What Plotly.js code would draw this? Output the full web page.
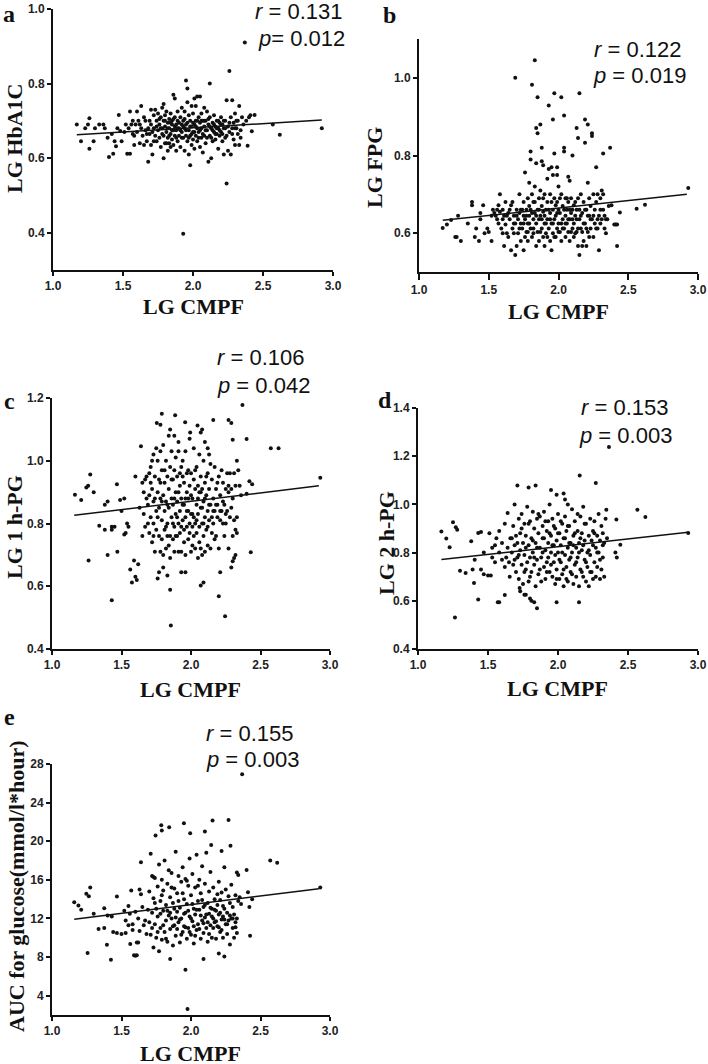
<!DOCTYPE html>
<html><head><meta charset="utf-8">
<script src="https://cdn.plot.ly/plotly-3.0.1.min.js"></script>
<style>html,body{margin:0;padding:0;background:#fff}#chart{width:708px;height:1064px}</style>
</head><body><div id="chart"></div>
<script>
// ---- data ----
const ptsA = [[1.17,0.69],[1.20,0.645],[1.23,0.68],[1.25,0.69],[1.26,0.625],[1.26,0.707],[1.29,0.645],[1.30,0.68],[1.33,0.69],[1.36,0.69],[1.37,0.68],[1.39,0.655],[1.40,0.603],[1.42,0.665],[1.43,0.612],[1.44,0.645],[1.45,0.632],[1.46,0.68],[1.47,0.716],[1.48,0.673],[1.49,0.645],
[1.51,0.67],[1.52,0.69],[1.53,0.612],[1.54,0.68],[1.55,0.612],[1.55,0.725],[1.56,0.69],[1.57,0.665],[1.57,0.70],[1.58,0.635],[1.59,0.69],[1.60,0.725],[1.60,0.67],[1.61,0.70],[1.62,0.64],[1.63,0.74],[1.63,0.68],[1.64,0.66],[1.65,0.635],[1.66,0.675],[1.66,0.70],[1.67,0.645],[1.68,0.68],[1.68,0.59],[1.69,0.665],[1.70,0.73],[1.70,0.635],[1.70,0.69],
[1.71,0.61],[1.72,0.68],[1.72,0.715],[1.73,0.66],[1.73,0.73],[1.74,0.645],[1.74,0.70],[1.75,0.675],[1.75,0.72],[1.76,0.69],[1.76,0.655],[1.77,0.71],[1.77,0.63],[1.78,0.68],[1.78,0.735],[1.78,0.665],[1.79,0.70],[1.79,0.60],[1.79,0.745],[1.80,0.685],[1.80,0.64],[1.80,0.715],[1.81,0.67],[1.81,0.725],[1.82,0.655],[1.82,0.695],[1.82,0.62],[1.83,0.68],[1.83,0.705],[1.83,0.64],[1.84,0.665],[1.84,0.72],[1.84,0.63],[1.85,0.69],[1.85,0.65],[1.85,0.70],[1.86,0.77],[1.86,0.675],[1.86,0.635],[1.87,0.71],[1.87,0.66],[1.87,0.76],[1.88,0.69],[1.88,0.62],[1.88,0.675],[1.89,0.70],[1.89,0.645],[1.89,0.725],[1.90,0.68],[1.90,0.66],
[1.91,0.71],[1.91,0.63],[1.92,0.69],[1.92,0.735],[1.92,0.67],[1.93,0.397],[1.93,0.655],[1.93,0.70],[1.94,0.62],[1.94,0.68],[1.94,0.725],[1.95,0.808],[1.95,0.66],[1.95,0.69],[1.96,0.787],[1.96,0.75],[1.96,0.645],[1.97,0.675],[1.97,0.715],[1.97,0.61],[1.98,0.581],[1.98,0.70],[1.98,0.66],[1.99,0.74],[1.99,0.685],[1.99,0.635],[2.00,0.72],[2.00,0.67],[2.00,0.65],[2.01,0.76],[2.01,0.69],[2.01,0.625],[2.02,0.70],[2.02,0.66],[2.02,0.74],[2.03,0.68],[2.03,0.765],[2.03,0.645],[2.04,0.71],[2.04,0.67],[2.05,0.695],[2.05,0.765],[2.05,0.63],[2.06,0.68],[2.06,0.72],[2.06,0.655],[2.07,0.70],[2.07,0.615],[2.08,0.685],[2.08,0.735],[2.08,0.66],[2.09,0.70],[2.09,0.64],[2.10,0.675],[2.10,0.725],
[2.11,0.59],[2.11,0.69],[2.12,0.80],[2.12,0.66],[2.12,0.71],[2.13,0.68],[2.13,0.60],[2.14,0.695],[2.14,0.645],[2.15,0.67],[2.15,0.715],[2.16,0.685],[2.16,0.65],[2.17,0.70],[2.17,0.665],[2.18,0.68],[2.18,0.625],[2.19,0.695],[2.19,0.66],[2.20,0.67],[2.20,0.71],[2.21,0.645],[2.21,0.69],[2.22,0.68],[2.22,0.61],[2.23,0.70],[2.23,0.655],[2.24,0.755],[2.24,0.532],[2.25,0.685],[2.25,0.62],[2.26,0.834],[2.26,0.67],[2.27,0.71],[2.27,0.61],[2.28,0.755],[2.28,0.68],[2.29,0.695],[2.29,0.65],[2.30,0.72],[2.30,0.635],[2.31,0.68],[2.32,0.70],[2.32,0.665],[2.33,0.74],[2.33,0.635],[2.34,0.675],[2.35,0.71],
[2.37,0.91],[2.38,0.70],[2.39,0.633],[2.40,0.71],[2.41,0.715],[2.42,0.672],[2.44,0.716],[2.57,0.69],[2.62,0.663],[2.92,0.68],
[1.58,0.66],[1.62,0.69],[1.65,0.71],[1.67,0.665],[1.69,0.70],[1.71,0.67],[1.72,0.645],[1.74,0.685],[1.76,0.705],[1.77,0.68],[1.79,0.66],[1.80,0.70],[1.81,0.64],[1.82,0.68],[1.83,0.66],[1.84,0.695],[1.85,0.675],[1.86,0.705],[1.87,0.685],[1.88,0.655],[1.89,0.68],[1.90,0.695],[1.91,0.675],[1.92,0.655],[1.93,0.685],[1.94,0.705],[1.95,0.675],[1.96,0.695],[1.97,0.655],[1.98,0.685],[1.99,0.665],[2.00,0.695],[2.01,0.67],[2.02,0.685],[2.03,0.70],[2.04,0.655],[2.05,0.675],[2.06,0.70],[2.07,0.665],[2.08,0.70],[2.09,0.675],[2.10,0.655],[2.11,0.705],[2.12,0.685],[2.13,0.655],[2.14,0.675],[2.15,0.69],[2.16,0.665],[2.17,0.68],[2.18,0.70],[2.19,0.675],[2.20,0.69],[2.21,0.665],[2.22,0.70],[2.23,0.68],[2.24,0.66],[2.26,0.695],[2.28,0.665],[2.30,0.68],[2.31,0.70],[2.34,0.655],[2.36,0.69]];

const ptsB = [[1.17,0.613],[1.20,0.622],[1.23,0.634],[1.26,0.59],[1.27,0.59],[1.28,0.645],[1.30,0.58],[1.35,0.625],[1.38,0.68],[1.38,0.672],[1.40,0.59],[1.41,0.612],[1.43,0.58],[1.44,0.652],[1.44,0.636],[1.46,0.672],[1.47,0.60],[1.49,0.612],[1.50,0.603],[1.52,0.58],[1.52,0.645],
[1.53,0.66],[1.54,0.652],[1.55,0.645],[1.56,0.636],[1.56,0.66],[1.57,0.672],[1.57,0.625],[1.58,0.70],[1.58,0.655],[1.59,0.612],[1.60,0.636],[1.60,0.66],[1.61,0.567],[1.61,0.645],[1.62,0.622],[1.62,0.68],[1.63,0.60],[1.64,0.652],[1.64,0.59],[1.65,0.636],[1.66,0.556],[1.66,0.672],[1.67,0.612],[1.67,0.68],[1.68,0.645],[1.68,0.60],[1.69,0.544],[1.69,1.0],[1.69,0.625],[1.70,0.567],[1.70,0.66],
[1.71,0.636],[1.71,0.60],[1.72,0.70],[1.72,0.652],[1.73,0.58],[1.73,0.625],[1.74,0.66],[1.74,0.612],[1.75,0.556],[1.75,0.645],[1.75,0.68],[1.76,0.756],[1.76,0.59],[1.76,0.636],[1.77,0.66],[1.77,0.603],[1.78,0.69],[1.78,0.625],[1.78,0.58],[1.79,0.73],[1.79,0.645],[1.79,0.67],[1.80,0.81],[1.80,0.79],[1.80,0.612],[1.80,0.66],[1.81,0.982],[1.81,0.70],[1.81,0.59],[1.82,0.636],[1.82,0.68],[1.82,0.60],[1.83,1.045],[1.83,0.652],[1.83,0.72],[1.84,0.871],[1.84,0.78],[1.84,0.625],[1.84,0.567],[1.85,0.95],[1.85,0.857],[1.85,0.66],[1.85,0.603],[1.86,0.69],[1.86,0.636],[1.86,0.58],[1.87,0.88],[1.87,0.71],[1.87,0.645],[1.88,0.82],[1.88,0.785],[1.88,0.612],[1.88,0.67],[1.89,0.775],[1.89,0.59],[1.89,0.655],[1.90,0.70],[1.90,0.625],[1.90,0.567],
[1.91,0.66],[1.91,0.60],[1.92,0.74],[1.92,0.636],[1.92,0.68],[1.93,0.929],[1.93,0.765],[1.93,0.612],[1.94,0.652],[1.94,0.70],[1.94,0.58],[1.95,0.77],[1.95,0.625],[1.95,0.556],[1.96,0.893],[1.96,0.75],[1.96,0.66],[1.96,0.60],[1.97,0.96],[1.97,0.805],[1.97,0.69],[1.97,0.636],[1.98,0.645],[1.98,0.59],[1.99,0.77],[1.99,0.75],[1.99,0.68],[1.99,0.612],[2.00,0.66],[2.00,0.625],[2.00,0.72],[2.01,0.603],[2.01,0.652],[2.02,0.95],[2.02,0.70],[2.02,0.58],[2.03,0.636],[2.03,0.67],[2.04,0.903],[2.04,0.82],[2.04,0.81],[2.04,0.612],[2.05,0.69],[2.05,0.645],[2.05,0.59],[2.06,0.66],[2.06,0.625],[2.07,0.745],[2.07,0.603],[2.07,0.68],[2.08,0.735],[2.08,0.636],[2.08,0.58],[2.09,0.652],[2.09,0.69],[2.10,0.80],[2.10,0.612],[2.10,0.66],
[2.11,0.625],[2.11,0.59],[2.12,0.68],[2.12,0.645],[2.13,0.871],[2.13,0.66],[2.13,0.603],[2.14,0.845],[2.14,0.69],[2.14,0.567],[2.15,0.96],[2.15,0.544],[2.15,0.636],[2.16,0.612],[2.16,0.70],[2.17,0.567],[2.17,0.652],[2.18,0.58],[2.18,0.68],[2.19,0.893],[2.19,0.833],[2.19,0.625],[2.20,0.567],[2.20,0.66],[2.21,0.88],[2.21,0.73],[2.21,0.603],[2.22,0.645],[2.22,0.69],[2.23,0.612],[2.23,0.67],[2.24,0.857],[2.24,0.85],[2.24,0.636],[2.25,0.70],[2.25,0.59],[2.26,0.66],[2.26,0.625],[2.27,0.77],[2.27,0.68],[2.28,0.70],[2.28,0.612],[2.29,0.556],[2.29,0.645],[2.30,0.69],[2.30,0.66],[2.31,0.71],[2.31,0.636],[2.32,0.805],[2.32,0.70],[2.33,0.645],[2.33,0.612],[2.34,0.60],[2.35,0.636],[2.36,0.67],
[2.37,0.82],[2.38,0.672],[2.40,0.622],[2.41,0.622],[2.42,0.567],[2.42,0.622],[2.44,0.653],[2.56,0.663],[2.62,0.673],[2.93,0.716],
[1.60,0.60],[1.63,0.645],[1.65,0.66],[1.68,0.625],[1.70,0.645],[1.72,0.612],[1.73,0.66],[1.75,0.625],[1.77,0.645],[1.78,0.603],[1.79,0.625],[1.81,0.652],[1.82,0.612],[1.83,0.68],[1.84,0.645],[1.86,0.66],[1.87,0.603],[1.88,0.636],[1.89,0.69],[1.90,0.645],[1.91,0.625],[1.92,0.59],[1.93,0.66],[1.94,0.636],[1.95,0.68],[1.96,0.625],[1.97,0.59],[1.98,0.672],[1.99,0.652],[2.00,0.603],[2.01,0.69],[2.02,0.625],[2.03,0.612],[2.04,0.66],[2.05,0.625],[2.06,0.69],[2.07,0.636],[2.08,0.66],[2.09,0.603],[2.10,0.636],[2.11,0.672],[2.12,0.60],[2.13,0.636],[2.14,0.612],[2.15,0.66],[2.16,0.645],[2.17,0.603],[2.18,0.625],[2.19,0.66],[2.20,0.612],[2.21,0.645],[2.22,0.59],[2.23,0.636],[2.25,0.645],[2.27,0.612],[2.28,0.636],[2.30,0.625],[2.32,0.66],[2.34,0.636]];

const ptsC = [[1.165,0.892],[1.21,0.875],[1.247,0.915],[1.26,0.92],[1.275,0.956],[1.263,0.682],[1.30,0.90],[1.34,0.793],[1.38,0.78],[1.38,0.86],[1.40,0.87],[1.40,0.70],[1.43,0.79],[1.45,0.79],[1.43,0.78],[1.43,0.555],[1.467,0.925],[1.47,0.71],[1.49,0.875],[1.50,0.84],[1.52,0.765],[1.53,0.77],[1.52,0.88],[1.54,0.80],[1.55,0.79],[1.563,0.653],[1.575,0.612],[1.59,0.682],[1.60,0.63],[1.61,0.62],[1.62,0.67],[1.64,1.046],[1.60,0.95],[1.63,0.85],[1.65,0.76],[1.67,0.94],[1.68,0.88],[1.70,0.96],[1.72,1.0],[1.73,1.02],[1.754,1.12],[1.79,1.15],[1.78,1.115],[1.886,1.145],[1.85,1.10],[1.88,1.08],[1.91,1.06],[1.958,1.123],[1.994,1.09],[2.047,1.112],[2.07,1.09],[2.08,1.10],[2.10,1.06],[2.12,1.04],[2.16,1.13],[2.27,1.13],[2.29,1.12],[2.30,1.067],[2.37,1.178],[2.40,1.069],[2.574,1.04],[2.63,1.04],[2.93,0.946],[2.43,0.708],[2.44,0.925],[2.42,0.935],[2.40,0.895],[2.33,0.82],[2.32,0.78],[2.33,0.77],[2.32,0.70],[2.31,0.69],[2.30,0.68],[2.29,0.66],[2.245,0.504],[2.20,0.568],[2.21,0.645],[2.09,0.612],[2.07,0.602],[1.855,0.475],[1.85,0.589],[1.83,0.634],[1.80,0.66],[1.77,0.645],[1.76,0.625],[1.93,0.645],[1.96,0.645],
[1.65,0.93],[1.66,0.83],[1.67,0.79],[1.68,0.95],[1.69,0.86],[1.70,0.77],[1.70,0.89],[1.71,0.82],[1.71,0.98],[1.72,0.74],[1.72,0.91],[1.73,0.80],[1.73,0.87],[1.74,0.95],[1.74,0.71],[1.75,1.04],[1.75,0.84],[1.75,0.78],[1.76,0.90],[1.76,1.00],[1.77,0.76],[1.77,0.94],[1.77,0.85],[1.78,0.71],[1.78,0.88],[1.78,1.03],[1.79,0.81],[1.79,0.97],[1.79,0.75],[1.80,0.89],[1.80,1.05],[1.80,0.70],[1.81,0.84],[1.81,0.93],[1.81,0.78],[1.82,1.00],[1.82,0.87],[1.82,0.72],[1.83,0.95],[1.83,0.80],[1.83,0.76],[1.84,0.91],[1.84,1.08],[1.84,0.85],[1.85,0.76],[1.85,0.98],[1.85,0.69],[1.86,0.88],[1.86,0.82],[1.86,1.03],[1.87,0.75],[1.87,0.94],[1.87,0.86],[1.88,0.79],[1.88,0.97],[1.88,0.71],[1.89,0.90],[1.89,1.01],[1.89,0.83],[1.90,0.76],[1.90,0.95],[1.90,0.87],[1.91,0.80],[1.91,1.03],[1.91,0.71],[1.92,0.92],[1.92,0.84],[1.92,0.77],[1.93,0.98],[1.93,0.88],[1.93,0.71],[1.94,0.81],[1.94,0.95],[1.94,1.00],[1.95,0.78],[1.95,0.86],[1.95,0.93],[1.96,0.82],[1.96,1.03],[1.96,0.70],[1.97,0.90],[1.97,0.79],[1.97,0.96],[1.98,0.84],[1.98,0.75],[1.98,0.88],[1.99,0.92],[1.99,0.80],[1.99,1.07],[2.00,0.83],[2.00,0.71],[2.00,0.96],[2.01,0.79],[2.01,0.88],[2.01,0.73],[2.02,0.94],[2.02,0.82],[2.02,1.04],[2.03,0.80],[2.03,0.91],[2.03,0.72],[2.04,0.86],[2.04,0.98],[2.04,0.77],[2.05,0.92],[2.05,0.69],[2.05,0.83],[2.06,0.74],[2.06,0.90],[2.06,1.02],[2.07,0.85],[2.07,0.72],[2.07,0.95],[2.08,0.80],[2.08,0.91],[2.08,0.70],[2.09,0.87],[2.09,1.00],[2.09,0.76],[2.10,0.82],[2.10,0.93],[2.10,0.71],[2.11,0.89],[2.11,0.78],[2.12,0.96],[2.12,0.84],[2.12,0.73],[2.13,0.91],[2.13,0.81],[2.13,1.02],[2.14,0.86],[2.14,0.72],[2.15,0.94],[2.15,0.82],[2.16,0.88],[2.16,0.80],[2.17,0.98],[2.17,0.84],[2.18,0.76],[2.18,0.91],[2.19,0.82],[2.19,0.86],[2.20,0.95],[2.20,0.72],[2.21,0.81],[2.21,0.89],[2.22,0.84],[2.22,0.97],[2.23,0.80],[2.23,0.93],[2.24,0.86],[2.24,0.76],[2.25,0.91],[2.25,0.80],[2.26,0.96],[2.26,0.84],[2.27,0.90],[2.27,0.72],[2.28,0.96],[2.28,0.82],[2.29,0.91],[2.30,0.76],[2.30,0.88],[2.31,0.96],[2.32,0.92],[2.33,1.00],[2.34,0.97],[2.35,0.92],[2.36,0.89],
[1.66,0.90],[1.69,0.80],[1.71,0.93],[1.73,0.76],[1.74,0.88],[1.76,0.82],[1.78,0.93],[1.79,0.87],[1.81,0.97],[1.82,0.79],[1.83,0.86],[1.84,0.73],[1.86,0.94],[1.87,0.80],[1.88,0.88],[1.89,0.76],[1.90,0.82],[1.91,0.90],[1.92,0.96],[1.93,0.79],[1.94,0.86],[1.95,0.74],[1.96,0.88],[1.97,0.84],[1.98,0.97],[1.99,0.77],[2.00,0.89],[2.01,0.83],[2.02,0.76],[2.03,0.97],[2.04,0.81],[2.05,0.88],[2.06,0.79],[2.07,0.90],[2.08,0.85],[2.09,0.80],[2.10,0.88],[2.11,0.95],[2.12,0.79],[2.13,0.86],[2.14,0.99],[2.15,0.77],[2.16,0.84],[2.17,0.75],[2.18,0.86],[2.19,0.93],[2.21,0.84],[2.23,0.87],[2.25,0.83],[2.27,0.92],[2.29,0.85],[2.31,0.81]];

const ptsD = [[1.167,0.888],[1.202,0.858],[1.226,0.822],[1.25,0.926],[1.27,0.905],[1.28,0.895],[1.264,0.531],[1.30,0.725],[1.34,0.715],[1.38,0.847],[1.39,0.73],[1.40,0.674],[1.405,0.77],[1.43,0.881],[1.45,0.885],[1.47,0.80],[1.43,0.605],[1.45,0.73],[1.47,0.71],[1.50,0.705],[1.52,0.705],[1.51,0.88],[1.53,0.82],[1.55,0.83],[1.56,0.86],[1.53,0.78],[1.55,0.76],[1.57,0.594],[1.58,0.594],[1.62,0.624],[1.58,0.89],[1.62,0.92],[1.64,0.964],[1.655,0.70],[1.67,0.80],[1.68,0.75],[1.69,1.0],[1.726,0.653],[1.73,0.64],[1.76,0.625],[1.77,0.625],[1.71,1.078],[1.79,1.07],[1.84,1.078],[1.80,0.61],[1.81,0.60],[1.83,0.594],[1.85,0.569],[1.99,0.594],[2.15,0.594],[2.155,1.12],[2.27,1.089],[2.364,1.238],[2.345,0.978],[2.417,0.937],[2.445,0.833],[2.41,0.80],[2.42,0.78],[2.567,0.978],[2.624,0.948],[2.93,0.881],[1.95,1.06],[1.99,1.04],[2.04,1.045],[2.05,1.02],[2.07,1.0],
[1.58,0.80],[1.60,0.77],[1.60,0.84],[1.62,0.74],[1.63,0.78],[1.64,0.82],[1.65,0.76],[1.66,0.86],
[1.68,0.91],[1.69,0.83],[1.70,0.72],[1.70,0.87],[1.71,0.78],[1.72,0.94],[1.72,0.69],[1.73,0.81],[1.73,0.88],[1.74,0.75],[1.74,0.96],[1.75,0.84],[1.75,0.67],[1.76,0.92],[1.76,0.79],[1.77,0.73],[1.77,0.87],[1.78,0.99],[1.78,0.76],[1.79,0.83],[1.79,0.68],[1.80,0.93],[1.80,0.78],[1.81,0.86],[1.81,0.72],[1.82,0.97],[1.82,0.80],[1.83,0.75],[1.83,0.90],[1.84,0.66],[1.84,0.84],[1.85,0.94],[1.85,0.77],[1.86,0.71],[1.86,0.88],[1.87,0.82],[1.87,0.95],[1.88,0.68],[1.88,0.78],[1.89,0.91],[1.89,0.86],[1.90,0.74],[1.90,0.97],[1.91,0.81],[1.91,0.69],[1.92,0.89],[1.92,0.76],[1.93,0.93],[1.93,0.84],[1.94,0.72],[1.94,1.0],[1.95,0.80],[1.95,0.87],[1.96,0.70],[1.96,0.94],[1.97,0.83],[1.97,0.76],[1.98,0.90],[1.98,0.67],[1.99,0.85],[1.99,0.73],[2.00,0.96],[2.00,0.80],[2.01,0.69],[2.01,0.88],[2.02,0.76],[2.02,0.83],[2.03,0.92],[2.03,0.71],[2.04,0.86],[2.04,0.66],[2.05,0.79],[2.05,0.95],[2.06,0.74],[2.06,0.89],[2.07,0.82],[2.07,0.68],[2.08,0.91],[2.08,0.77],[2.09,0.84],[2.09,0.72],[2.10,0.98],[2.10,0.80],[2.11,0.67],[2.11,0.87],[2.12,0.75],[2.12,0.93],[2.13,0.82],[2.13,0.70],[2.14,0.89],[2.14,0.78],[2.15,0.84],[2.15,0.66],[2.16,0.95],[2.16,0.73],[2.17,0.81],[2.17,0.88],[2.18,0.70],[2.18,0.99],[2.19,0.77],[2.19,0.85],[2.20,0.92],[2.20,0.68],[2.21,0.80],[2.21,0.74],[2.22,0.87],[2.22,0.66],[2.23,0.94],[2.23,0.79],[2.24,0.72],[2.24,0.85],[2.25,0.89],[2.25,0.69],[2.26,0.76],[2.26,0.93],[2.27,0.82],[2.27,0.70],[2.28,0.87],[2.28,0.74],[2.29,0.96],[2.29,0.80],[2.30,0.69],[2.30,0.85],[2.31,0.73],[2.31,0.91],[2.32,0.78],[2.32,0.88],[2.33,0.70],[2.33,0.84],[2.34,0.94],[2.35,0.86],
[1.67,0.86],[1.69,0.77],[1.71,0.84],[1.72,0.79],[1.74,0.90],[1.76,0.72],[1.77,0.82],[1.79,0.92],[1.80,0.70],[1.82,0.85],[1.83,0.78],[1.85,0.82],[1.86,0.96],[1.87,0.73],[1.89,0.80],[1.90,0.86],[1.91,0.93],[1.92,0.72],[1.93,0.78],[1.94,0.88],[1.95,0.75],[1.96,0.83],[1.97,0.91],[1.98,0.79],[1.99,0.69],[2.00,0.88],[2.01,0.77],[2.02,0.93],[2.03,0.80],[2.04,0.73],[2.05,0.86],[2.06,0.69],[2.07,0.91],[2.08,0.84],[2.09,0.78],[2.10,0.71],[2.11,0.83],[2.12,0.88],[2.13,0.76],[2.14,0.96],[2.15,0.80],[2.16,0.86],[2.17,0.72],[2.18,0.83],[2.19,0.92],[2.20,0.76],[2.22,0.81],[2.23,0.72],[2.25,0.83],[2.26,0.88],[2.28,0.80],[2.30,0.77],[2.32,0.83]];

const ptsE = [[1.16,13.69],[1.19,13.34],[1.21,12.9],[1.247,14.55],[1.265,14.3],[1.275,15.2],[1.256,8.41],[1.30,12.48],[1.335,10.9],[1.376,13.07],[1.376,11.0],[1.395,9.28],[1.40,12.3],[1.424,7.72],[1.43,12.2],[1.44,10.6],[1.467,14.28],[1.467,10.5],[1.50,10.4],[1.52,12.8],[1.53,10.5],[1.55,13.3],[1.55,11.3],[1.563,9.35],[1.57,14.9],[1.59,8.2],[1.60,8.15],[1.61,8.2],[1.58,10.8],[1.60,12.7],[1.61,9.5],[1.62,9.5],[1.63,15.0],[1.64,14.5],[1.64,17.83],[1.66,11.3],[1.70,11.6],[1.72,16.4],[1.73,16.3],[1.71,18.7],[1.745,20.59],[1.786,21.66],[1.79,21.1],[1.843,21.45],[1.949,21.86],[1.994,20.83],[2.10,21.0],[2.155,22.14],[2.27,22.2],[2.368,26.93],[2.284,19.52],[2.22,19.0],[2.145,19.62],[1.96,6.69],[1.975,2.62],[2.09,7.79],[1.85,7.79],[2.20,8.38],[2.24,8.07],[2.425,10.2],[2.40,17.03],[2.33,16.76],[2.34,16.5],[2.41,14.72],[2.42,13.2],[2.44,14.0],[2.57,18.0],[2.62,17.76],[2.93,15.2],
[1.53,11.8],[1.56,12.5],[1.58,11.4],[1.62,12.0],[1.63,10.7],[1.65,13.2],[1.67,11.8],[1.68,10.4],[1.69,12.9],
[1.70,14.8],[1.71,10.3],[1.72,12.6],[1.73,9.0],[1.73,14.1],[1.74,11.4],[1.74,16.2],[1.75,13.0],[1.75,10.0],[1.76,15.3],[1.76,12.2],[1.77,17.6],[1.77,8.6],[1.78,13.8],[1.78,11.0],[1.79,16.0],[1.79,9.8],[1.80,12.8],[1.80,14.9],[1.81,18.0],[1.81,10.6],[1.82,13.4],[1.82,11.8],[1.83,15.6],[1.83,9.6],[1.84,12.3],[1.84,17.0],[1.85,14.2],[1.85,10.9],[1.86,16.7],[1.86,12.0],[1.87,9.2],[1.87,13.6],[1.88,15.1],[1.88,11.3],[1.89,18.9],[1.89,10.2],[1.90,12.7],[1.90,14.6],[1.91,16.4],[1.91,11.6],[1.92,13.1],[1.92,9.5],[1.93,15.8],[1.93,12.0],[1.94,17.3],[1.94,10.6],[1.95,14.0],[1.95,11.2],[1.96,16.1],[1.96,12.6],[1.97,9.9],[1.97,13.5],[1.98,15.4],[1.98,11.0],[1.99,18.2],[1.99,12.2],[2.00,14.4],[2.00,10.3],[2.01,16.6],[2.01,11.7],[2.02,13.0],[2.02,9.4],[2.03,15.2],[2.03,12.4],[2.04,18.6],[2.04,10.8],[2.05,13.8],[2.05,11.4],[2.06,16.0],[2.06,12.9],[2.07,9.9],[2.07,14.6],[2.08,11.8],[2.08,17.4],[2.09,13.2],[2.09,10.5],[2.10,15.6],[2.10,12.1],[2.11,18.8],[2.11,11.0],[2.12,13.6],[2.12,9.6],[2.13,14.8],[2.13,12.5],[2.14,16.8],[2.14,11.3],[2.15,13.0],[2.15,10.0],[2.16,15.2],[2.16,12.0],[2.17,11.6],[2.17,14.0],[2.18,12.8],[2.18,9.9],[2.19,13.4],[2.19,11.2],[2.20,15.8],[2.20,12.4],[2.21,10.6],[2.21,13.9],[2.22,11.9],[2.22,14.7],[2.23,12.2],[2.23,10.0],[2.24,17.3],[2.24,13.0],[2.25,11.4],[2.25,15.0],[2.26,12.6],[2.26,10.4],[2.27,14.3],[2.27,11.8],[2.28,13.6],[2.28,9.3],[2.29,12.0],[2.29,15.5],[2.30,11.0],[2.30,13.2],[2.31,12.4],[2.31,10.0],[2.32,11.6],[2.32,14.4],[2.33,12.0],[2.33,10.5],[2.34,13.8],[2.35,14.2],[2.36,13.5],
[1.72,11.0],[1.74,13.6],[1.76,10.6],[1.78,12.5],[1.79,14.4],[1.80,11.3],[1.82,9.9],[1.83,12.8],[1.85,12.6],[1.86,15.2],[1.87,11.2],[1.88,13.0],[1.89,12.1],[1.90,10.9],[1.91,13.8],[1.92,11.9],[1.93,10.3],[1.94,14.6],[1.95,12.5],[1.96,11.1],[1.97,15.9],[1.98,12.8],[1.99,10.6],[2.00,12.0],[2.01,13.5],[2.02,11.2],[2.03,10.2],[2.04,12.9],[2.05,15.4],[2.06,10.9],[2.07,12.3],[2.08,13.9],[2.09,11.5],[2.10,13.4],[2.11,12.4],[2.12,11.6],[2.13,10.4],[2.14,13.1],[2.15,12.2],[2.16,11.0],[2.17,12.9],[2.18,11.7],[2.19,14.5],[2.20,11.1],[2.21,12.6],[2.22,10.8],[2.23,13.3],[2.24,11.9],[2.26,11.4],[2.28,12.3],[2.30,12.0],[2.32,11.1]];

// regression line end points
const fitA = [[1.17,0.663],[2.92,0.702]];
const fitB = [[1.17,0.633],[2.92,0.700]];
const fitC = [[1.16,0.826],[2.92,0.920]];
const fitD = [[1.167,0.771],[2.93,0.884]];
const fitE = [[1.16,11.93],[2.92,15.07]];

const panelLetters = ['a','b','c','d','e'];
const yTitles = ['LG HbA1C','LG FPG','LG 1 h-PG','LG 2 h-PG','AUC for glucose(mmol/l*hour)'];
const xTitle = 'LG CMPF';
const rVals = ['0.131','0.122','0.106','0.153','0.155'];
const pVals = ['0.012','0.019','0.042','0.003','0.003'];
const xTicks = [1.0,1.5,2.0,2.5,3.0];
const yTicksA = [0.4,0.6,0.8,1.0];
const yTicksB = [0.6,0.8,1.0];
const yTicksC = [0.4,0.6,0.8,1.0,1.2];
const yTicksD = [0.4,0.6,0.8,1.0,1.2,1.4];
const yTicksE = [4,8,12,16,20,24,28];

// ---- layout geometry (pixels) ----
const W = 708, H = 1064;
const px = v => v / W, py = v => 1 - v / H;
const panels = [
  {pts: ptsA, fit: fitA, xd:[53,333], yd:[9,270], yr:[0.3,1.0], yt:yTicksA, fmt:'.1f', tl:4,
   lab:[9,14], yt_pos:[15,139], xt_pos:[193,306], st:[253,12,256,39], pEq:'= '},
  {pts: ptsB, fit: fitB, xd:[419,698], yd:[39,272], yr:[0.5,1.1], yt:yTicksB, fmt:'.1f', tl:6,
   lab:[389,15], yt_pos:[374,168], xt_pos:[558,311], st:[592,50,591,76], pEq:' = '},
  {pts: ptsC, fit: fitC, xd:[52,330], yd:[398,649], yr:[0.4,1.2], yt:yTicksC, fmt:'.1f', tl:4,
   lab:[9,401], yt_pos:[14,527], xt_pos:[190,689], st:[215,357,215,385], pEq:' = '},
  {pts: ptsD, fit: fitD, xd:[418,698], yd:[408,649], yr:[0.4,1.4], yt:yTicksD, fmt:'.1f', tl:4,
   lab:[385,400], yt_pos:[386,543], xt_pos:[557,688], st:[579,408,577,435], pEq:' = '},
  {pts: ptsE, fit: fitE, xd:[52,330], yd:[764,1015], yr:[2,28], yt:yTicksE, fmt:'d', tl:4,
   lab:[9,717], yt_pos:[16,886], xt_pos:[190,1053], st:[204,733,204,759], pEq:' = '}
];

const traces = [], annotations = [];
const layout = {width:W, height:H, margin:{l:0,r:0,t:0,b:0}, showlegend:false,
  paper_bgcolor:'#fff', plot_bgcolor:'rgba(0,0,0,0)', annotations};
const tickFont = {family:'Liberation Sans, Arial, sans-serif', size:12, color:'#222', weight:'bold'};
const serifBold = {family:'Liberation Serif, Times New Roman, serif', size:22, color:'#111', weight:'bold'};
const statFont = {family:'Liberation Sans, Arial, sans-serif', size:22, color:'#111'};

panels.forEach((p, i) => {
  const k = i === 0 ? '' : String(i + 1);
  const xa = 'x' + k, ya = 'y' + k;
  traces.push({type:'scatter', mode:'markers', x:p.pts.map(d=>d[0]), y:p.pts.map(d=>d[1]),
    xaxis:xa, yaxis:ya, marker:{size:4, color:'#111'}, cliponaxis:false, hoverinfo:'skip'});
  traces.push({type:'scatter', mode:'lines', x:p.fit.map(d=>d[0]), y:p.fit.map(d=>d[1]),
    xaxis:xa, yaxis:ya, line:{color:'#111', width:1.5}, hoverinfo:'skip'});
  const common = {showline:true, linecolor:'#111', linewidth:2, ticks:'outside', ticklen:p.tl,
    tickwidth:2, tickcolor:'#111', showgrid:false, zeroline:false, tickfont:tickFont, fixedrange:true};
  layout['xaxis' + k] = Object.assign({}, common, {domain:[px(p.xd[0]), px(p.xd[1])], range:[1,3],
    tickvals:xTicks, tickformat:'.1f', anchor:ya});
  layout['yaxis' + k] = Object.assign({}, common, {domain:[py(p.yd[1]), py(p.yd[0])], range:p.yr,
    tickvals:p.yt, tickformat:p.fmt, anchor:xa, ticklen:4});
  const base = {xref:'paper', yref:'paper', showarrow:false};
  annotations.push(Object.assign({}, base, {text:panelLetters[i], x:px(p.lab[0]), y:py(p.lab[1]),
    xanchor:'center', yanchor:'middle', font:Object.assign({}, serifBold, {size:24})}));
  annotations.push(Object.assign({}, base, {text:yTitles[i], x:px(p.yt_pos[0]), y:py(p.yt_pos[1]),
    xanchor:'center', yanchor:'middle', textangle:-90, font:serifBold}));
  annotations.push(Object.assign({}, base, {text:xTitle, x:px(p.xt_pos[0]), y:py(p.xt_pos[1]),
    xanchor:'center', yanchor:'middle', font:serifBold, height:20}));
  annotations.push(Object.assign({}, base, {text:'<i>r</i> = ' + rVals[i], x:px(p.st[0]), y:py(p.st[1]),
    xanchor:'left', yanchor:'middle', font:statFont}));
  annotations.push(Object.assign({}, base, {text:'<i>p</i>' + p.pEq + pVals[i], x:px(p.st[2]), y:py(p.st[3]),
    xanchor:'left', yanchor:'middle', font:statFont}));
});

Plotly.newPlot('chart', traces, layout, {staticPlot:true, displayModeBar:false});
</script></body></html>
